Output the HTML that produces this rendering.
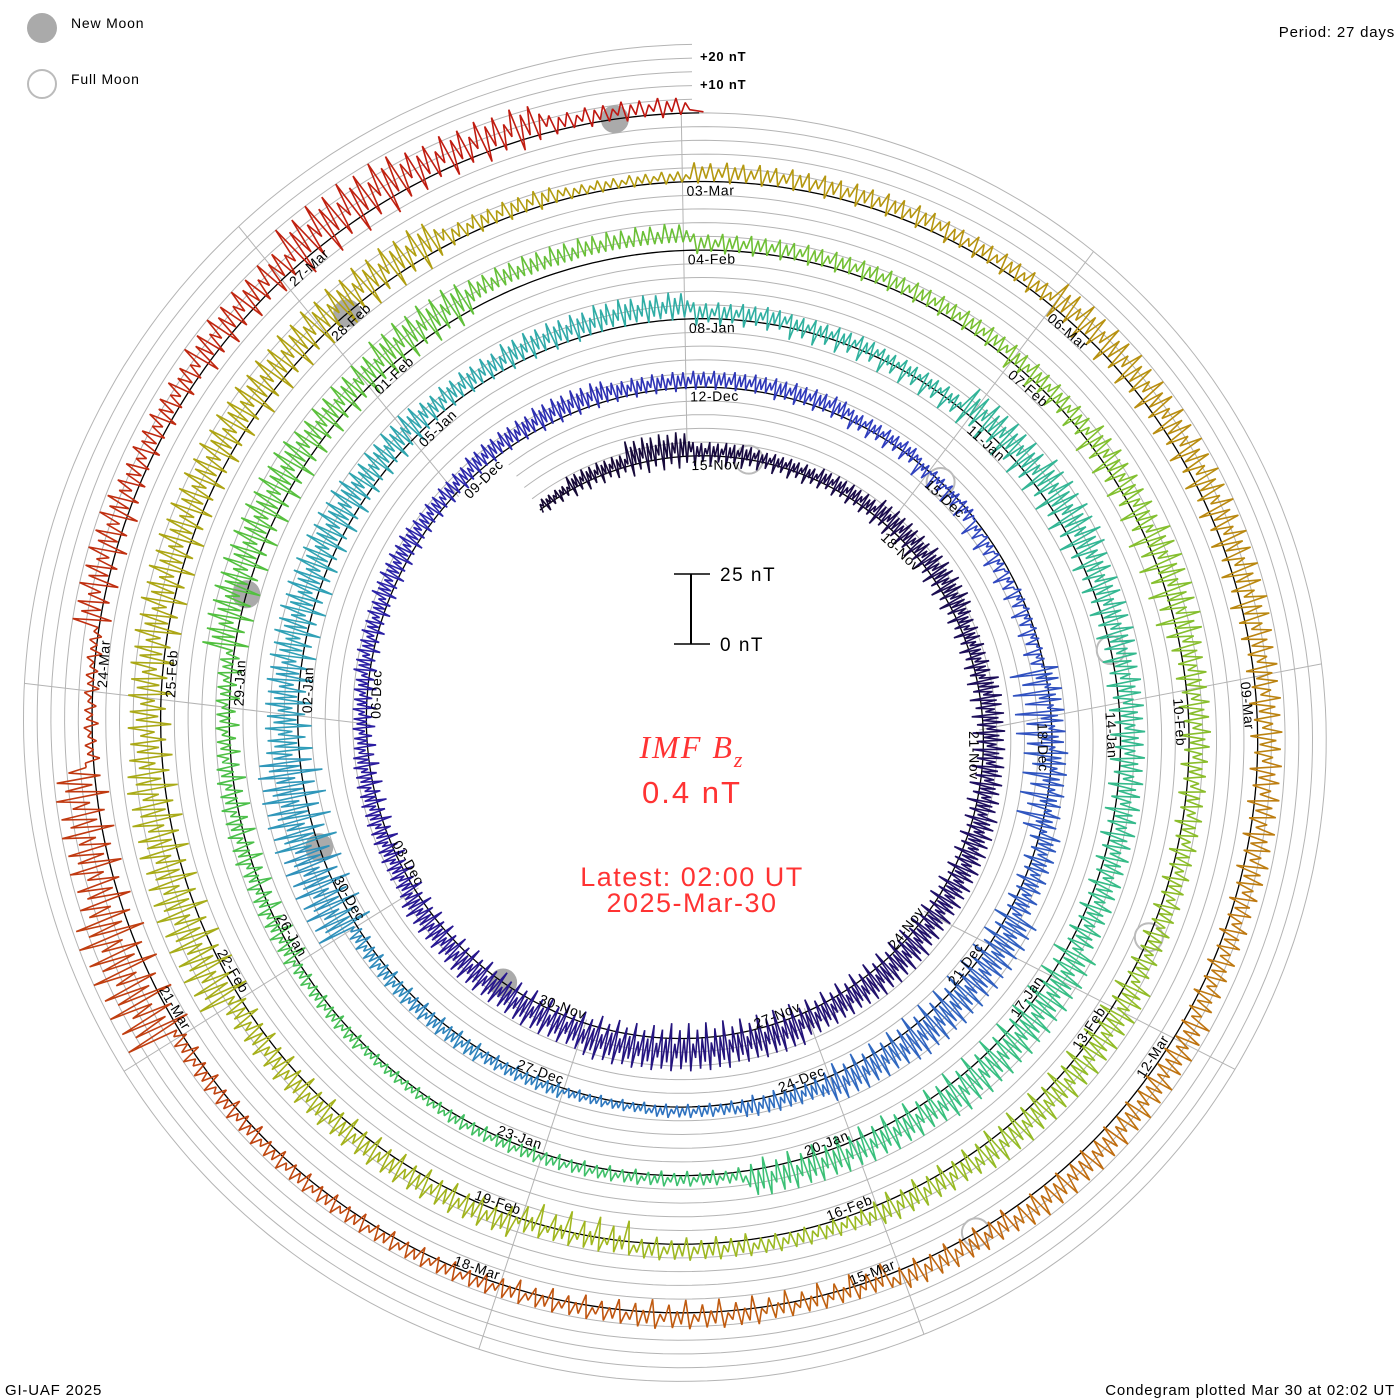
<!DOCTYPE html>
<html>
<head>
<meta charset="utf-8">
<style>
html,body{margin:0;padding:0;background:#fff;}
svg{display:block;}
text{font-family:"Liberation Sans",sans-serif;}
</style>
</head>
<body>
<svg id="chart" width="1400" height="1400" viewBox="0 0 1400 1400" xmlns="http://www.w3.org/2000/svg">
  <rect x="0" y="0" width="1400" height="1400" fill="#fff"/>
  <g id="grid"></g>
  <g id="spokes"></g>
  <g id="moons"></g>
  <g id="baseline"></g>
  <g id="series"></g>
  <g id="labels"></g>

  <g>
    <circle cx="42" cy="28" r="15" fill="#aaaaaa"/>
    <text x="71" y="28" font-size="14" letter-spacing="0.8">New Moon</text>
    <circle cx="42" cy="84" r="14" fill="none" stroke="#bbbbbb" stroke-width="2"/>
    <text x="71" y="84" font-size="14" letter-spacing="0.8">Full Moon</text>
  </g>
  <text x="1395" y="37" font-size="15" text-anchor="end" letter-spacing="0.8">Period: 27 days</text>
  <text x="5" y="1395" font-size="15" letter-spacing="0.8">GI-UAF 2025</text>
  <text x="1395" y="1395" font-size="15" text-anchor="end" letter-spacing="0.8">Condegram plotted Mar 30 at 02:02 UT</text>
  <text x="700" y="61" font-size="13" font-weight="bold" letter-spacing="0.8">+20 nT</text>
  <text x="700" y="89" font-size="13" font-weight="bold" letter-spacing="0.8">+10 nT</text>

  <g>
    <line x1="691" y1="574" x2="691" y2="644" stroke="#000" stroke-width="2"/>
    <line x1="674" y1="574" x2="710" y2="574" stroke="#000" stroke-width="1.5"/>
    <line x1="674" y1="644" x2="710" y2="644" stroke="#000" stroke-width="1.5"/>
    <text x="720" y="581" font-size="19" letter-spacing="1.5">25 nT</text>
    <text x="720" y="651" font-size="19" letter-spacing="1.5">0 nT</text>
  </g>

  <g fill="#ff3333">
    <text x="692" y="758" font-size="32" text-anchor="middle" font-style="italic" style="font-family:'Liberation Serif',serif" letter-spacing="2">IMF B<tspan font-size="22" dy="9">z</tspan></text>
    <text x="692" y="803" font-size="31" text-anchor="middle" letter-spacing="2">0.4 nT</text>
    <text x="692" y="886" font-size="27" text-anchor="middle" letter-spacing="1.5">Latest: 02:00 UT</text>
    <text x="692" y="912" font-size="27" text-anchor="middle" letter-spacing="1.5">2025-Mar-30</text>
  </g>
</svg>
<script>
// ---- data (day index: day 0 = 15-Nov-2024 00:00 UT; samples centred at dayStart + i) ----
const dayStart = -2.5;
const dayEnd = 135.08;
const bzHigh = [3,5,9, 5,4,5, 7,8,6, 8,8,9, 9,10,9, 11,12,12, 10,9,8, 6,6,5, 6,7,6, 7,8,6,
  6,6,4, 2,0,1, 5,6,8, 12,12,10, 6,4,3, 4,5,5, 15,16,12, 12,12,10, 8,9,10,
  6,5,4, 10,12,10, 9,9,9, 12,12,10, 10,4,4, 4,3,4, 5,6,5, 12,12,10, 12,10,10,
  6,6,6, 6,8,10, 8,7,7, 10,10,8, 6,6,5, 8,8,8, 15,14,12, 12,12,12, 12,6,4,
  7,7,6, 10,10,10, 9,9,8, 10,10,8, 5,6,5, 5,5,5, 20,15,3, 10,8,10, 15,12,6];
const bzLow = [-5,-7,-10, -8,-7,-6, -8,-9,-8, -9,-9,-8, -9,-10,-10, -12,-13,-11, -10,-9,-8, -8,-8,-7, -6,-6,-5, -4,-5,-4,
  -3,-5,-7, -10,-13,-12, -25,-20,-8, -12,-12,-10, -5,-3,-3, -4,-5,-5, -16,-18,-12, -12,-10,-8, -4,-5,-3,
  -6,-9,-10, -12,-12,-10, -9,-9,-8, -12,-12,-10, -10,-4,-4, -4,-3,-4, -10,-10,-8, -12,-12,-10, -10,2,3,
  -4,-4,-4, -8,-12,-15, -8,-7,-7, -10,-10,-8, -3,-6,-15, -8,-8,-8, -13,-12,-10, -12,-10,-12, -12,-4,-2,
  -3,-4,-5, -10,-10,-10, -7,-7,-6, -4,-4,-6, -10,-10,-8, -5,-5,-6, -15,-12,-5, -10,-6,-10, -15,-10,-4];
const lastValue = 0.4;
const newMoonDays = [16.26, 45.94, 75.52, 105.03, 134.46];
const fullMoonDays = [0.89, 30.38, 59.94, 89.58, 119.29];
const turnStartDates = ["2024-11-15","2024-12-12","2025-01-08","2025-02-04","2025-03-03"];
const spokeInnerDeg = [-1, 44, 90, 128, 158, 200, 240, 271, 315];
const spokeOuterDeg = [-1, 40, 84, 122, 159, 199, 239, 274, 318];

// ---- geometry ----
const CX = 692, CY = 730, R0 = 274, PITCH = 68.6, PERIOD = 27;
const NT = PITCH / 25;
const NS = "http://www.w3.org/2000/svg";
function baseR(d){ return R0 + PITCH * d / PERIOD; }
function pt(d, off){
  const th = 2*Math.PI*d/PERIOD, r = baseR(d) + off;
  return [CX + r*Math.sin(th), CY - r*Math.cos(th)];
}
function mk(tag, attrs, parent){
  const e = document.createElementNS(NS, tag);
  for (const k in attrs) e.setAttribute(k, attrs[k]);
  parent.appendChild(e); return e;
}
const stops = [[-3,[21,8,48]],[10,[32,16,106]],[20,[42,26,160]],[30,[48,64,192]],[40,[48,112,192]],
  [48,[48,160,184]],[55,[48,176,160]],[65,[56,192,128]],[75,[80,192,64]],[85,[128,192,48]],
  [95,[160,184,32]],[105,[176,160,16]],[112,[184,144,16]],[118,[192,112,16]],[126,[192,64,16]],[136,[192,16,16]]];
function colorAt(d){
  for (let i=0;i<stops.length-1;i++){
    const a=stops[i], b=stops[i+1];
    if (d<=b[0]){ const f=Math.max(0,(d-a[0])/(b[0]-a[0]));
      const c=a[1].map((v,j)=>Math.round(v+(b[1][j]-v)*f)); return "rgb("+c.join(",")+")"; }
  }
  return "rgb(192,16,16)";
}

// grid strands
const grid = document.getElementById('grid');
for (let j=1;j<=5;j++){
  let s="";
  for (let d=dayStart-0.1; d<=dayEnd+0.001; d+=0.1){ const p=pt(d, j*5*NT); s+=(s?"L":"M")+p[0].toFixed(1)+","+p[1].toFixed(1); }
  const e = mk('path',{d:s,fill:"none",stroke:"#b4b4b4","stroke-width":"1"},grid);
  
  
}
// spokes
const spokes = document.getElementById('spokes');
spokeInnerDeg.forEach((a,i)=>{
  const b = spokeOuterDeg[i];
  const ri = R0 + PITCH*Math.max(a,0)/360 - 4;
  const ro = R0 + PITCH*(5 + Math.max(b,0)/360);
  const ta=a*Math.PI/180, tb=b*Math.PI/180;
  const e = mk('line',{x1:CX+ri*Math.sin(ta),y1:CY-ri*Math.cos(ta),x2:CX+ro*Math.sin(tb),y2:CY-ro*Math.cos(tb),stroke:"#b4b4b4","stroke-width":"1"},spokes);
  
  
});
// moons
const moons = document.getElementById('moons');
newMoonDays.forEach(d=>{ const p=pt(d,0);
  const e=mk('circle',{cx:p[0],cy:p[1],r:14,fill:"#aaaaaa"},moons);
  
   });
fullMoonDays.forEach(d=>{ const p=pt(d,0);
  const e=mk('circle',{cx:p[0],cy:p[1],r:14,fill:"none",stroke:"#bbbbbb","stroke-width":"2"},moons);
  
   });
// baseline
(function(){
  let s="";
  for (let d=dayStart-0.1; d<=dayEnd+0.001; d+=0.05){ const p=pt(d,0); s+=(s?"L":"M")+p[0].toFixed(1)+","+p[1].toFixed(1); }
  const e = mk('path',{d:s,fill:"none",stroke:"#000","stroke-width":"1.3"},document.getElementById('baseline'));
  
  
})();
// series
const series = document.getElementById('series');
const SUB = 32;
const pattern = [1, 0.55, 0.8, 0.2, 0.95, 0.4, 0.7, 0.1];
let prev = null;
for (let i=0;i<bzHigh.length;i++){
  const dc = dayStart + i;
  let s = prev ? "M"+prev[0].toFixed(1)+","+prev[1].toFixed(1) : "";
  for (let j=0;j<SUB;j++){
    const t = dc - 0.5 + (j+0.5)/SUB;
    if (t < dayStart - 0.1 || t > dayEnd) continue;
    const w = pattern[j % pattern.length];
    const v = (j%2===0) ? bzHigh[i]*w + bzLow[i]*(1-w)*0.3 : bzLow[i]*w + bzHigh[i]*(1-w)*0.3;
    const p = pt(t, v*NT);
    s += (s?"L":"M")+p[0].toFixed(1)+","+p[1].toFixed(1);
    prev = p;
  }
  if (i===bzHigh.length-1){ const p=pt(dayEnd,lastValue*NT); s+="L"+p[0].toFixed(1)+","+p[1].toFixed(1); }
  const e = mk('path',{d:s,fill:"none",stroke:colorAt(dc),"stroke-width":"1.6","stroke-linejoin":"bevel"},series);
  
  
}
// date labels
const months=["Jan","Feb","Mar","Apr","May","Jun","Jul","Aug","Sep","Oct","Nov","Dec"];
const labels = document.getElementById('labels');
turnStartDates.forEach((ds,k)=>{
  const base = new Date(ds+"T00:00:00Z");
  spokeInnerDeg.forEach((a,s)=>{
    const dd = new Date(base.getTime() + 3*s*86400000);
    const txt = String(dd.getUTCDate()).padStart(2,"0")+"-"+months[dd.getUTCMonth()];
    const ang = a + (spokeOuterDeg[s]-a)*(k+0.5)/5;
    const dday = 27*k + ang*27/360;
    const r = baseR(dday);
    const th = ang*Math.PI/180;
    const x = CX + r*Math.sin(th), y = CY - r*Math.cos(th);
    const an = (ang+360)%360;
    const flip = an>90 && an<270;
    const g = mk('g',{transform:"translate("+x.toFixed(1)+","+y.toFixed(1)+") rotate("+(flip?an+180:an).toFixed(1)+")"},labels);
    
    
    const t = mk('text',{x:flip?-3:4,y:flip?-3:14,"font-size":"14","text-anchor":flip?"end":"start","letter-spacing":"0.6"},g);
    
    
    t.textContent = txt;
  });
});
</script>
</body>
</html>
